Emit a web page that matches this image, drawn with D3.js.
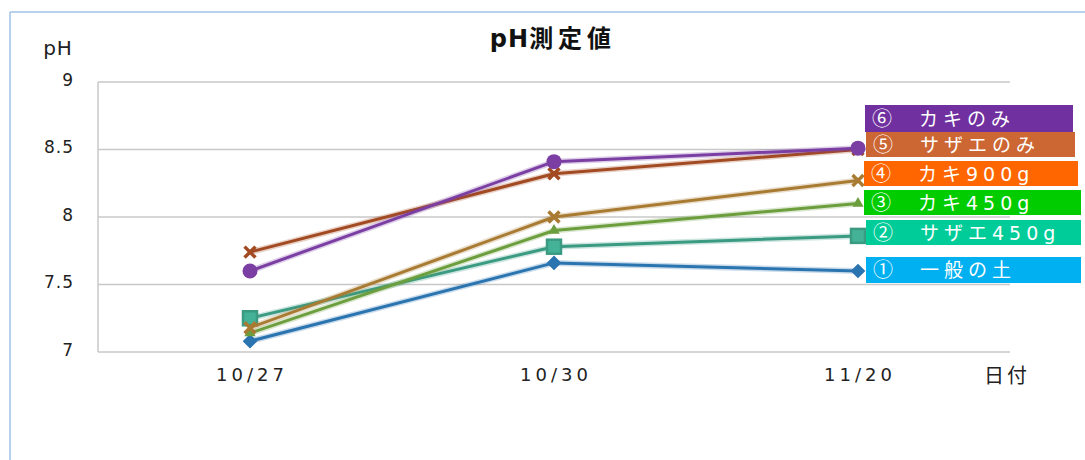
<!DOCTYPE html>
<html>
<head>
<meta charset="utf-8">
<script src="https://cdn.jsdelivr.net/npm/d3@7/dist/d3.min.js"></script>
<style>
  html, body { margin: 0; padding: 0; background: #fff; }
  svg { display: block; }
</style>
</head>
<body>
<svg id="chart" width="1085" height="460"></svg>
<script>
// pH readings per sampling date
const dates = ["10/27", "10/30", "11/20"];
const seriesNums  = ["①", "②", "③", "④", "⑤", "⑥"];
const seriesNames = ["一般の土", "サザエ450g", "カキ450g", "カキ900g", "サザエのみ", "カキのみ"];
const soil      = [7.08, 7.66, 7.60];
const sazae450  = [7.25, 7.78, 7.86];
const kaki450   = [7.14, 7.90, 8.10];
const kaki900   = [7.18, 8.00, 8.27];
const sazaeOnly = [7.74, 8.32, 8.50];
const kakiOnly  = [7.60, 8.41, 8.51];
const yTicks = [7, 7.5, 8, 8.5, 9];
const yTickLabels = ["7", "7.5", "8", "8.5", "9"];

const lineColors   = ["#2a74b0", "#3a9a82", "#6c9e3e", "#a97b32", "#a24a22", "#7b3fa3"];
const legendColors = ["#00b0f0", "#00cc99", "#00cc00", "#ff6600", "#cc6633", "#7030a0"];
const markers = ["diamond", "square", "triangle", "cross", "cross", "circle"];

const values = [soil, sazae450, kaki450, kaki900, sazaeOnly, kakiOnly];

const latinFont = "'DejaVu Sans', 'Noto Sans CJK JP', sans-serif";
const cjkFont = "'Noto Sans CJK JP', sans-serif";

const svg = d3.select("#chart");
const plot = { left: 98, right: 1010, top: 82, bottom: 352 };

const x = d3.scaleBand().domain(dates).range([plot.left, plot.right]);
const y = d3.scaleLinear().domain([7, 9]).range([plot.bottom, plot.top]);

// outer chart frame (top and left edges)
svg.append("line").attr("x1", 10).attr("x2", 1085).attr("y1", 12).attr("y2", 12)
  .attr("stroke", "#9fc3e3").attr("stroke-width", 1.5);
svg.append("line").attr("x1", 10).attr("x2", 10).attr("y1", 12).attr("y2", 460)
  .attr("stroke", "#9fc3e3").attr("stroke-width", 1.5);

// horizontal gridlines
svg.append("g").selectAll("line").data(yTicks).join("line")
  .attr("x1", plot.left).attr("x2", plot.right)
  .attr("y1", d => y(d)).attr("y2", d => y(d))
  .attr("stroke", "#c8c8c8").attr("stroke-width", 1.5);
// left axis line
svg.append("line").attr("x1", plot.left).attr("x2", plot.left)
  .attr("y1", plot.top).attr("y2", plot.bottom)
  .attr("stroke", "#c8c8c8").attr("stroke-width", 1.5);

// y tick labels
const yAxis = d3.axisLeft(y).tickValues(yTicks).tickFormat((d, i) => yTickLabels[i]).tickSize(0).tickPadding(24);
const gy = svg.append("g").attr("transform", `translate(${plot.left},0)`).call(yAxis);
gy.select(".domain").remove();
gy.selectAll("text").attr("fill", "#222").attr("dy", "0.2em")
  .style("font-family", latinFont).style("font-size", "17px").style("letter-spacing", "1px");

// x tick labels
const xAxis = d3.axisBottom(x).tickSize(0).tickPadding(16);
const gx = svg.append("g").attr("transform", `translate(0,${plot.bottom})`).call(xAxis);
gx.select(".domain").remove();
gx.selectAll("text").attr("fill", "#222").attr("dx", "2px")
  .style("font-family", latinFont).style("font-size", "18px").style("letter-spacing", "4px");

// titles
const title = svg.append("text").attr("x", 553).attr("y", 47).attr("text-anchor", "middle")
  .attr("fill", "#111")
  .style("font-family", latinFont).style("font-size", "24px").style("font-weight", "bold");
title.append("tspan").style("letter-spacing", "1px").text("pH");
title.append("tspan").style("letter-spacing", "5px").text("測定値");
svg.append("text").attr("x", 58).attr("y", 55).attr("text-anchor", "middle")
  .attr("fill", "#222")
  .style("font-family", latinFont).style("font-size", "20px").style("letter-spacing", "1px").text("pH");
svg.append("text").attr("x", 1007).attr("y", 383).attr("text-anchor", "middle")
  .attr("fill", "#222")
  .style("font-family", cjkFont).style("font-size", "20px").style("letter-spacing", "3px").text("日付");

// series lines with a soft halo
const cx = d => x(d) + x.bandwidth() / 2;
const line = d3.line().x((v, i) => cx(dates[i])).y(v => y(v));

const seriesG = svg.append("g");
values.forEach((vals, s) => {
  const g = seriesG.append("g");
  g.append("path").attr("d", line(vals)).attr("fill", "none")
    .attr("stroke", lineColors[s]).attr("stroke-opacity", 0.25).attr("stroke-width", 6)
    .attr("stroke-linejoin", "round");
  g.append("path").attr("d", line(vals)).attr("fill", "none")
    .attr("stroke", lineColors[s]).attr("stroke-width", 3).attr("stroke-linejoin", "round");

  vals.forEach((v, i) => {
    const px = cx(dates[i]), py = y(v);
    const c = lineColors[s];
    const m = markers[s];
    if (m === "diamond") {
      g.append("path").attr("d", d3.symbol(d3.symbolDiamond2, 100)()).attr("transform", `translate(${px},${py})`)
        .attr("fill", c).attr("stroke", c).attr("stroke-width", 1.5);
    } else if (m === "square") {
      g.append("rect").attr("x", px - 7).attr("y", py - 7).attr("width", 14).attr("height", 14)
        .attr("fill", d3.color(c).brighter(0.4)).attr("stroke", c).attr("stroke-width", 2.5);
    } else if (m === "triangle") {
      g.append("path").attr("d", d3.symbol(d3.symbolTriangle, 55)()).attr("transform", `translate(${px},${py})`)
        .attr("fill", c);
    } else if (m === "cross") {
      g.append("path").attr("d", d3.symbol(d3.symbolTimes, 80)()).attr("transform", `translate(${px},${py})`)
        .attr("fill", "none").attr("stroke", c).attr("stroke-width", 3.5);
    } else if (m === "circle") {
      g.append("circle").attr("cx", px).attr("cy", py).attr("r", 7.5).attr("fill", c);
    }
  });
});

// legend boxes
const legendBoxes = [
  { x: 866, y: 257, w: 215, h: 26 },
  { x: 866, y: 220, w: 215, h: 25 },
  { x: 864, y: 190, w: 217, h: 25 },
  { x: 864, y: 161, w: 214, h: 25 },
  { x: 866, y: 132, w: 209, h: 25 },
  { x: 865, y: 105, w: 208, h: 27 }
];
const lg = svg.append("g");
seriesNames.forEach((name, s) => {
  const b = legendBoxes[s];
  lg.append("rect").attr("x", b.x).attr("y", b.y).attr("width", b.w).attr("height", b.h)
    .attr("fill", legendColors[s]);
  const t = lg.append("text").attr("x", b.x + 7).attr("y", b.y + b.h / 2 + 7)
    .attr("fill", "#fff").style("font-size", "19px");
  t.append("tspan").style("font-family", cjkFont).style("font-size", "20px").text(seriesNums[s]);
  t.append("tspan").attr("dx", 27).style("font-family", latinFont).style("letter-spacing", "5px").text(name);
});
</script>
</body>
</html>
